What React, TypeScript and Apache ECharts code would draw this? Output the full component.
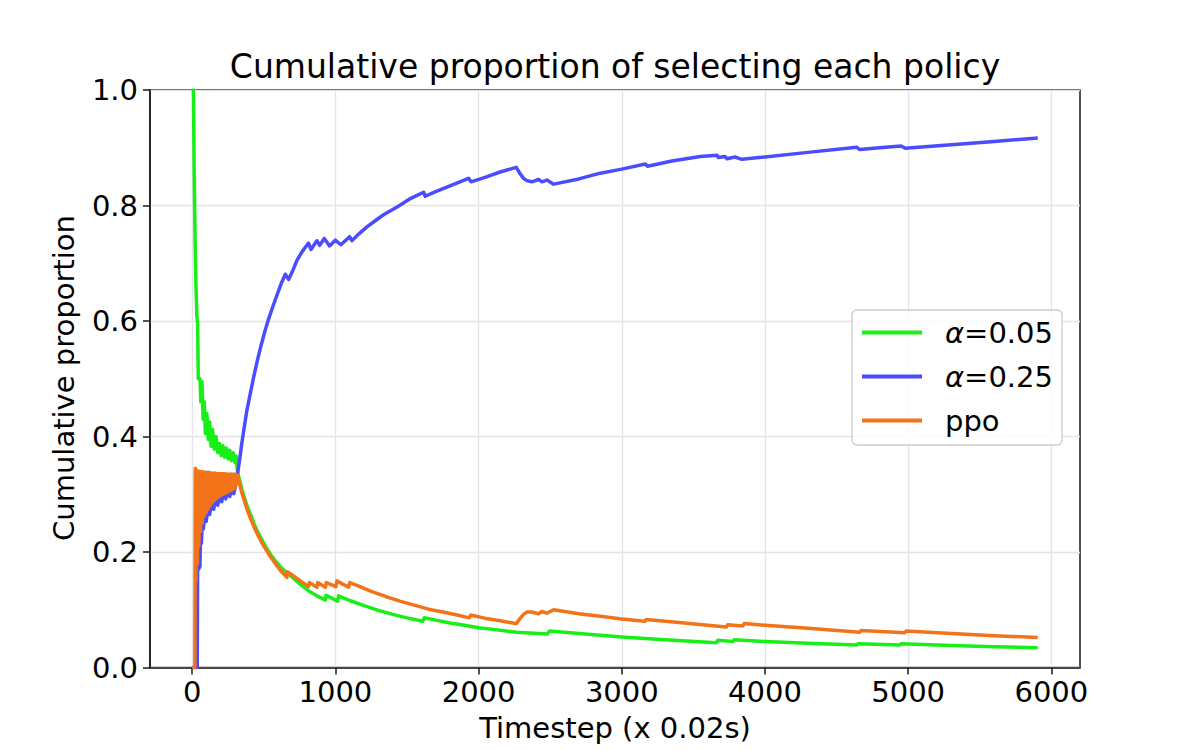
import React, { useEffect, useRef } from "react";
import * as echarts from "echarts";

const titleText = "Cumulative proportion of selecting each policy";
const xLabel = "Timestep (x 0.02s)";
const yLabel = "Cumulative proportion";
const seriesNames = ["α=0.05", "α=0.25", "ppo"];
const seriesColors = ["#18ef18", "#4c4cff", "#f27318"];
const xTickValues = [0, 1000, 2000, 3000, 4000, 5000, 6000];
const yTickValues = [0, 0.2, 0.4, 0.6, 0.8, 1.0];

const greenData: number[][] = [
  [0, 1.0], [8, 1.0], [14, 0.85], [20, 0.74], [26, 0.66], [32, 0.61], [38, 0.595],
  [42, 0.5], [54, 0.5], [60, 0.46], [68, 0.495], [76, 0.43], [84, 0.46], [92, 0.405],
  [102, 0.44], [112, 0.395], [122, 0.425], [132, 0.383], [142, 0.412], [154, 0.378],
  [166, 0.4], [178, 0.372], [190, 0.388], [202, 0.367], [214, 0.384], [226, 0.364],
  [238, 0.38], [250, 0.361], [262, 0.376], [274, 0.358], [286, 0.372], [298, 0.355],
  [308, 0.366], [316, 0.338],
  [330, 0.325], [345, 0.31], [360, 0.297], [380, 0.282], [405, 0.266], [430, 0.25],
  [455, 0.236], [480, 0.224], [505, 0.213], [530, 0.202], [560, 0.191], [592, 0.181],
  [620, 0.173], [650, 0.166], [700, 0.156], [750, 0.145], [812, 0.133], [870, 0.124],
  [929, 0.117], [935, 0.125], [1015, 0.115], [1022, 0.124], [1100, 0.116], [1200, 0.107],
  [1300, 0.099], [1400, 0.092], [1500, 0.086], [1610, 0.08], [1620, 0.086], [1700, 0.082],
  [1800, 0.077], [1900, 0.073], [2000, 0.069], [2100, 0.066], [2263, 0.061], [2480, 0.058],
  [2495, 0.063], [2600, 0.061], [2850, 0.056], [3000, 0.053], [3300, 0.048], [3660, 0.043],
  [3670, 0.047], [3775, 0.045], [3785, 0.048], [4000, 0.045], [4300, 0.042], [4640, 0.039],
  [4650, 0.041], [4940, 0.039], [4950, 0.041], [5300, 0.038], [5600, 0.036], [5905, 0.034],
];

const blueData: number[][] = [
  [0, 0], [35, 0], [38, 0.2], [44, 0.17], [54, 0.175], [58, 0.235], [64, 0.215], [70, 0.255],
  [78, 0.24], [88, 0.27], [98, 0.253], [110, 0.28], [122, 0.265], [136, 0.29], [150, 0.274],
  [164, 0.298], [178, 0.281], [192, 0.302], [206, 0.287], [220, 0.306], [234, 0.292],
  [248, 0.309], [262, 0.296], [276, 0.312], [290, 0.301], [304, 0.316], [316, 0.335],
  [330, 0.358], [345, 0.386], [360, 0.411], [380, 0.443], [405, 0.474], [430, 0.504],
  [455, 0.532], [480, 0.557], [505, 0.58], [530, 0.601], [560, 0.623], [592, 0.645],
  [620, 0.664], [650, 0.681], [673, 0.672], [700, 0.686], [731, 0.705], [770, 0.721],
  [812, 0.735], [829, 0.724], [871, 0.739], [890, 0.731], [922, 0.743], [959, 0.73],
  [999, 0.74], [1038, 0.732], [1099, 0.746], [1115, 0.739], [1160, 0.75], [1220, 0.763],
  [1280, 0.774], [1336, 0.784], [1400, 0.793], [1453, 0.801], [1523, 0.812], [1616, 0.823],
  [1627, 0.816], [1700, 0.824], [1800, 0.834], [1930, 0.847], [1947, 0.841], [2050, 0.849],
  [2150, 0.858], [2263, 0.866], [2290, 0.855], [2314, 0.847], [2337, 0.843], [2372, 0.841],
  [2419, 0.845], [2442, 0.841], [2477, 0.844], [2524, 0.837], [2700, 0.846], [2850, 0.856],
  [3000, 0.863], [3164, 0.872], [3180, 0.868], [3350, 0.877], [3548, 0.885], [3665, 0.887],
  [3675, 0.883], [3720, 0.885], [3735, 0.881], [3790, 0.884], [3839, 0.88], [4000, 0.884],
  [4300, 0.892], [4640, 0.901], [4660, 0.897], [4800, 0.9], [4950, 0.903], [4980, 0.899],
  [5300, 0.905], [5600, 0.911], [5905, 0.917],
];

const orangeData: number[][] = [
  [0, 0], [18, 0], [21, 0.345], [26, 0.15], [31, 0.342], [36, 0.18], [41, 0.34], [46, 0.21],
  [52, 0.34], [58, 0.235], [64, 0.339], [70, 0.25], [76, 0.339], [83, 0.262], [90, 0.338],
  [97, 0.268], [104, 0.338], [111, 0.274], [118, 0.338], [125, 0.28], [132, 0.337],
  [139, 0.285], [146, 0.337], [154, 0.289], [162, 0.337], [170, 0.292], [178, 0.336],
  [186, 0.296], [194, 0.336], [202, 0.298], [210, 0.336], [218, 0.3], [226, 0.336],
  [234, 0.302], [242, 0.335], [250, 0.304], [258, 0.335], [266, 0.306], [274, 0.335],
  [282, 0.308], [290, 0.335], [298, 0.31], [306, 0.334], [316, 0.333],
  [330, 0.318], [345, 0.304], [360, 0.292], [380, 0.276], [405, 0.259], [430, 0.244],
  [455, 0.231], [480, 0.219], [505, 0.208], [530, 0.198], [560, 0.187], [592, 0.176],
  [620, 0.167], [661, 0.156], [664, 0.166], [700, 0.16], [750, 0.151], [812, 0.14],
  [818, 0.147], [871, 0.139], [877, 0.147], [930, 0.139], [936, 0.147], [1003, 0.14],
  [1010, 0.15], [1092, 0.139], [1100, 0.147], [1150, 0.142], [1250, 0.132], [1350, 0.123],
  [1450, 0.115], [1550, 0.108], [1650, 0.101], [1750, 0.096], [1850, 0.091], [1935, 0.086],
  [1945, 0.091], [2050, 0.085], [2150, 0.081], [2263, 0.076], [2290, 0.085], [2314, 0.092],
  [2337, 0.096], [2372, 0.096], [2419, 0.093], [2442, 0.097], [2477, 0.094], [2524, 0.1],
  [2700, 0.093], [2850, 0.0886], [3000, 0.084], [3160, 0.08], [3170, 0.083], [3400, 0.078],
  [3600, 0.073], [3730, 0.07], [3740, 0.074], [3845, 0.072], [3855, 0.076], [4000, 0.073],
  [4300, 0.068], [4660, 0.061], [4670, 0.064], [4975, 0.06], [4985, 0.063], [5300, 0.059],
  [5600, 0.055], [5905, 0.052],
];

const FONT = "DejaVu Sans";
const FS = 29;

export default function App() {
  const ref = useRef<HTMLDivElement>(null);
  useEffect(() => {
    if (!ref.current) return;
    const chart = echarts.init(ref.current, null, { renderer: "svg" });
    const datas = [greenData, blueData, orangeData];
    chart.setOption({
      animation: false,
      backgroundColor: "#ffffff",
      grid: {
        left: 150,
        right: 120,
        top: 90,
        bottom: 82.5,
        show: true,
        borderColor: "#1a1a1a",
        borderWidth: 1.5,
        backgroundColor: "transparent",
      },
      xAxis: {
        type: "value",
        min: -295,
        max: 6200,
        splitNumber: 6,
        minInterval: 1000,
        maxInterval: 1000,
        axisLine: { show: true, onZero: false, lineStyle: { color: "#1a1a1a", width: 1.5 } },
        axisTick: {
          show: true,
          length: 7,
          lineStyle: { color: "#1a1a1a", width: 1.5 },
          customValues: xTickValues,
        },
        axisLabel: {
          show: true,
          margin: 10,
          color: "#000",
          fontSize: FS,
          fontFamily: FONT,
          customValues: xTickValues,
          formatter: (v: number) => String(Math.round(v)),
        },
        splitLine: { show: true, lineStyle: { color: "#e4e4e4", width: 1.3 } },
      },
      yAxis: {
        type: "value",
        min: 0,
        max: 1,
        interval: 0.2,
        axisLine: { show: true, onZero: false, lineStyle: { color: "#1a1a1a", width: 1.5 } },
        axisTick: { show: true, length: 7, lineStyle: { color: "#1a1a1a", width: 1.5 } },
        axisLabel: {
          margin: 12,
          color: "#000",
          fontSize: FS,
          fontFamily: FONT,
          customValues: yTickValues,
          formatter: (v: number) => v.toFixed(1),
        },
        splitLine: { show: true, lineStyle: { color: "#e4e4e4", width: 1.3 } },
      },
      legend: {
        orient: "vertical",
        left: 852,
        top: 310,
        padding: [8, 9, 10, 10],
        itemGap: 15,
        itemWidth: 60,
        itemHeight: 4,
        icon: "rect",
        backgroundColor: "rgba(255,255,255,0.85)",
        borderColor: "#cccccc",
        borderWidth: 1.3,
        borderRadius: 5,
        data: seriesNames,
        formatter: (name: string) =>
          name.startsWith("α") ? "{a|α}{b|" + name.slice(1) + "}" : "{b|" + name + "}",
        textStyle: {
          color: "#000",
          fontSize: FS,
          fontFamily: FONT,
          lineHeight: 28,
          padding: [0, 0, 0, 18],
          rich: {
            a: { fontSize: FS, fontFamily: FONT, fontStyle: "italic", color: "#000", lineHeight: 28 },
            b: { fontSize: FS, fontFamily: FONT, color: "#000", lineHeight: 28 },
          },
        },
      },
      graphic: [
        {
          type: "text",
          x: 615,
          y: 66,
          style: {
            text: titleText,
            font: `33px "${FONT}"`,
            fill: "#000",
            textAlign: "center",
            textVerticalAlign: "middle",
          },
        },
        {
          type: "text",
          x: 615,
          y: 728,
          style: {
            text: xLabel,
            font: `${FS}px "${FONT}"`,
            fill: "#000",
            textAlign: "center",
            textVerticalAlign: "middle",
          },
        },
        {
          type: "text",
          x: 64,
          y: 378,
          rotation: Math.PI / 2,
          style: {
            text: yLabel,
            font: `${FS}px "${FONT}"`,
            fill: "#000",
            textAlign: "center",
            textVerticalAlign: "middle",
          },
        },
      ],
      series: seriesNames.map((name, i) => ({
        name,
        type: "line",
        data: datas[i],
        showSymbol: false,
        symbol: "none",
        smooth: false,
        color: seriesColors[i],
        lineStyle: { color: seriesColors[i], width: 3.5, join: "round", cap: "butt" },
        emphasis: { disabled: true },
        z: 2 + i,
      })),
    });
    return () => chart.dispose();
  }, []);
  return (
    <div
      ref={ref}
      style={{ position: "fixed", left: 0, top: 0, width: 1200, height: 750, background: "#fff" }}
    />
  );
}
